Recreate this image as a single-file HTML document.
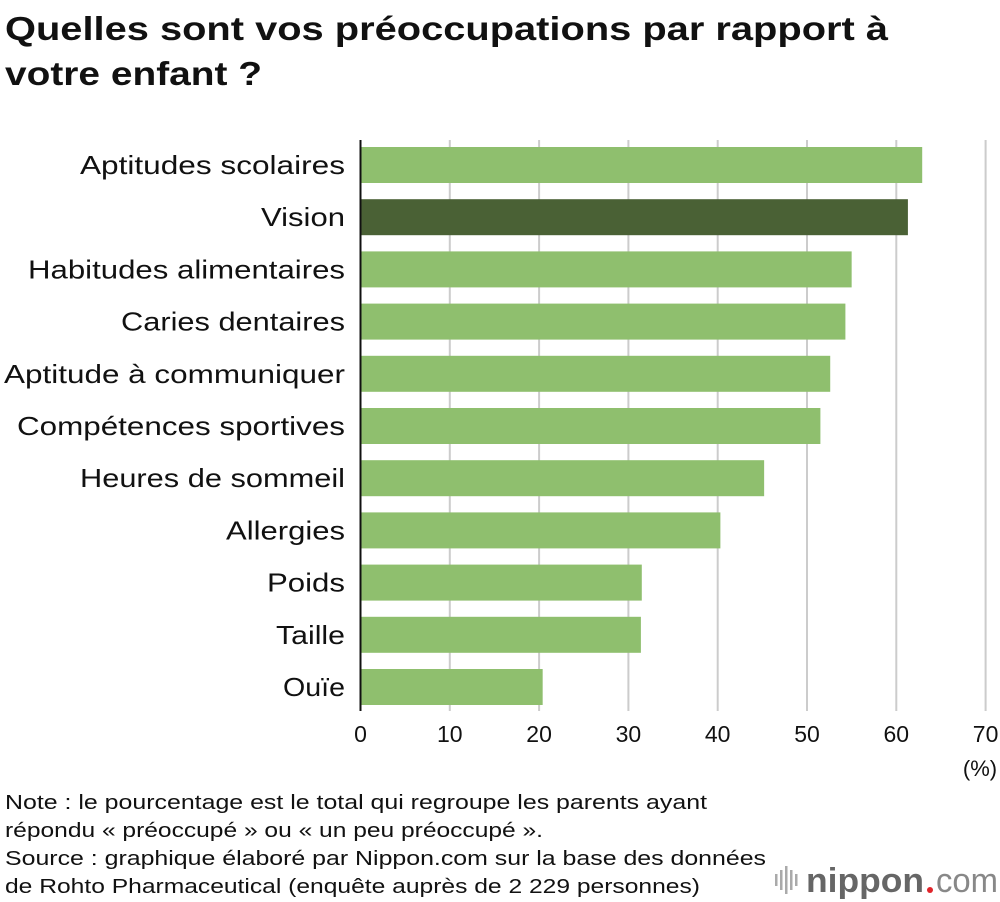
<!DOCTYPE html>
<html><head><meta charset="utf-8"><style>
body{margin:0;background:#fff;}
svg{display:block;font-family:"Liberation Sans",Arial,sans-serif;}
</style></head><body>
<svg id="c" width="1000" height="902" viewBox="0 0 1000 902" xmlns="http://www.w3.org/2000/svg">
<text x="5" y="40" font-size="33" font-weight="bold" fill="#111" textLength="883" lengthAdjust="spacingAndGlyphs">Quelles sont vos préoccupations par rapport à</text>
<text x="5" y="85" font-size="33" font-weight="bold" fill="#111" textLength="257" lengthAdjust="spacingAndGlyphs">votre enfant ?</text>
<g id="grid"></g><g id="bars"></g><g id="labels"></g><g id="ticks"></g>
<line x1="360.5" y1="140" x2="360.5" y2="711" stroke="#111" stroke-width="2"/>
<text x="980" y="776" font-size="22" text-anchor="middle" fill="#111">(%)</text>
<g font-size="20" fill="#111" lengthAdjust="spacingAndGlyphs">
<text x="5" y="809" textLength="702" lengthAdjust="spacingAndGlyphs">Note : le pourcentage est le total qui regroupe les parents ayant</text>
<text x="5" y="837" textLength="538" lengthAdjust="spacingAndGlyphs">répondu « préoccupé » ou « un peu préoccupé ».</text>
<text x="5" y="865" textLength="761" lengthAdjust="spacingAndGlyphs">Source : graphique élaboré par Nippon.com sur la base des données</text>
<text x="5" y="893" textLength="695" lengthAdjust="spacingAndGlyphs">de Rohto Pharmaceutical (enquête auprès de 2 229 personnes)</text>
</g>
<g>
<g fill="#aaa"><rect x="775" y="874" width="2.5" height="12"/><rect x="780" y="870" width="2.5" height="20"/><rect x="785" y="866" width="2.5" height="28"/><rect x="790" y="870" width="2.5" height="20"/><rect x="795" y="874" width="2.5" height="12"/></g>
<text x="806" y="892" font-size="34" font-weight="bold" fill="#666" textLength="118" lengthAdjust="spacingAndGlyphs">nippon</text>
<circle cx="930" cy="890" r="3" fill="#e0242b"/>
<text x="936" y="892" font-size="34" fill="#888" textLength="62" lengthAdjust="spacingAndGlyphs">com</text>
</g>
</svg>
<script>
const categories=["Aptitudes scolaires","Vision","Habitudes alimentaires","Caries dentaires","Aptitude à communiquer","Compétences sportives","Heures de sommeil","Allergies","Poids","Taille","Ouïe"];
const values=[62.9,61.3,55.0,54.3,52.6,51.5,45.2,40.3,31.5,31.4,20.4];
const highlight=[false,true,false,false,false,false,false,false,false,false,false];
const tickValues=[0,10,20,30,40,50,60,70];
const tickLabels=["0","10","20","30","40","50","60","70"];
const labelWidths=[265,84,317,224,341,328,265,119,78,69,62];
const NS="http://www.w3.org/2000/svg";
const x=v=>360.5+v*8.93;
const y=i=>147+i*52.2;
function mk(t,a,p){const e=document.createElementNS(NS,t);for(const k in a)e.setAttribute(k,a[k]);p.appendChild(e);return e;}
const grid=document.getElementById('grid'),bars=document.getElementById('bars'),labels=document.getElementById('labels'),ticks=document.getElementById('ticks');
tickValues.forEach((v,i)=>{
 if(v>0){const l=mk('line',{x1:x(v),x2:x(v),y1:140,y2:711,stroke:'#ccc','stroke-width':2},grid);
 
 }
 const t=mk('text',{x:x(v),y:742,'font-size':23,'text-anchor':'middle',fill:'#111'},ticks);
 t.textContent=tickLabels[i];
 
 
});
categories.forEach((c,i)=>{
 const r=mk('rect',{x:361,y:y(i),width:x(values[i])-361,height:36,fill:highlight[i]?'#4a6135':'#8fbf6e'},bars);
 
 
 const t=mk('text',{x:345-labelWidths[i],y:y(i)+27,'font-size':26,fill:'#111',textLength:labelWidths[i],lengthAdjust:'spacingAndGlyphs'},labels);
 t.textContent=c;
 
 
});
</script>
</body></html>
